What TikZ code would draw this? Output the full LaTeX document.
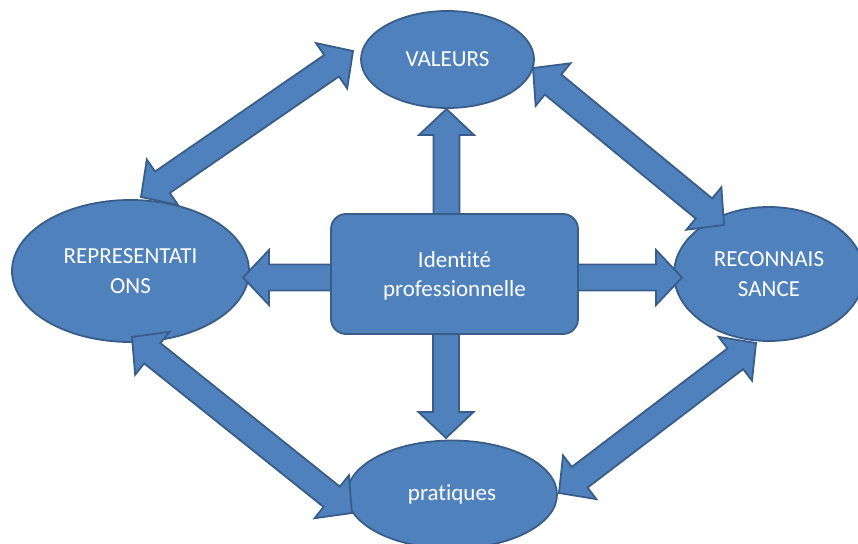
\documentclass[tikz,border=0pt]{standalone}
\usepackage{fontspec}
\setmainfont{Carlito}[Ligatures={NoCommon}]
\usetikzlibrary{calc,shapes.geometric}
\definecolor{bfill}{HTML}{4F81BD}
\definecolor{bline}{HTML}{385D8A}
\tikzset{
  shapestyle/.style={fill=bfill,draw=bline,line width=1.8pt,line join=miter},
  ell/.style={shapestyle,ellipse,inner sep=0pt,text=white,align=center,
    font=\fontsize{23}{29.5}\selectfont},
  box/.style={shapestyle,rounded corners=15pt},
  lbl/.style={text=white,align=center,font=\fontsize{23}{29}\selectfont},
}
\def\hl{26pt}\def\hh{27.5pt}\def\sw{13pt}
\newcommand\dblarrow[2]{%
  \coordinate (p1) at ($(#1)!\hl!(#2)$);
  \coordinate (p2) at ($(#2)!\hl!(#1)$);
  \draw[shapestyle] (#1) -- ($(p1)!\hh!90:(#2)$) -- ($(p1)!\sw!90:(#2)$)
    -- ($(p2)!\sw!-90:(#1)$) -- ($(p2)!\hh!-90:(#1)$) -- (#2)
    -- ($(p2)!\hh!90:(#1)$) -- ($(p2)!\sw!90:(#1)$)
    -- ($(p1)!\sw!-90:(#2)$) -- ($(p1)!\hh!-90:(#2)$) -- cycle;}
\newcommand\sglarrow[2]{%
  \coordinate (q) at ($(#2)!\hl!(#1)$);
  \draw[shapestyle] ($(#1)!\sw!90:(#2)$) -- ($(q)!\sw!-90:(#1)$)
    -- ($(q)!\hh!-90:(#1)$) -- (#2) -- ($(q)!\hh!90:(#1)$)
    -- ($(q)!\sw!90:(#1)$) -- ($(#1)!\sw!-90:(#2)$) -- cycle;}
\begin{document}
\begin{tikzpicture}[x=1pt,y=-1pt]
\clip (0,0) rectangle (858,543);
% ellipses
\node[ell,minimum width=173pt,minimum height=97pt] (val) at (447.5,59.5) {VALEURS};
\node[ell,minimum width=237pt,minimum height=142pt] (rep) at (130.5,271) {REPRESENTATI\\ONS};
\node[ell,minimum width=190pt,minimum height=134pt] (rec) at (769,274) {RECONNAIS\\SANCE};
\node[ell,minimum width=210pt,minimum height=108pt] (pra) at (452,494.5) {pratiques};
% arrow tips
\coordinate (a1r) at (141,197); \coordinate (a1v) at (353,51);
\coordinate (a2v) at (533,68);  \coordinate (a2r) at (724,225);
\coordinate (a3r) at (132,337); \coordinate (a3p) at (352,513);
\coordinate (a4r) at (756,343); \coordinate (a4p) at (559,493);
\dblarrow{a1r}{a1v}
\dblarrow{a2v}{a2r}
\dblarrow{a3r}{a3p}
\dblarrow{a4r}{a4p}
% straight arrows from the centre
\coordinate (bu) at (446.5,232); \coordinate (tu) at (446.5,109);
\coordinate (bd) at (446,318);   \coordinate (td) at (446,438);
\coordinate (bl) at (345,277.5); \coordinate (tl) at (243,277.5);
\coordinate (br) at (565,277.5); \coordinate (tr) at (682,277.5);
\sglarrow{bu}{tu}
\sglarrow{bd}{td}
\sglarrow{bl}{tl}
\sglarrow{br}{tr}
% centre box
\draw[box] (331,214) rectangle (578,334);
\node[lbl] (id) at (454.5,276) {Identité\\professionnelle};
\end{tikzpicture}
\end{document}
